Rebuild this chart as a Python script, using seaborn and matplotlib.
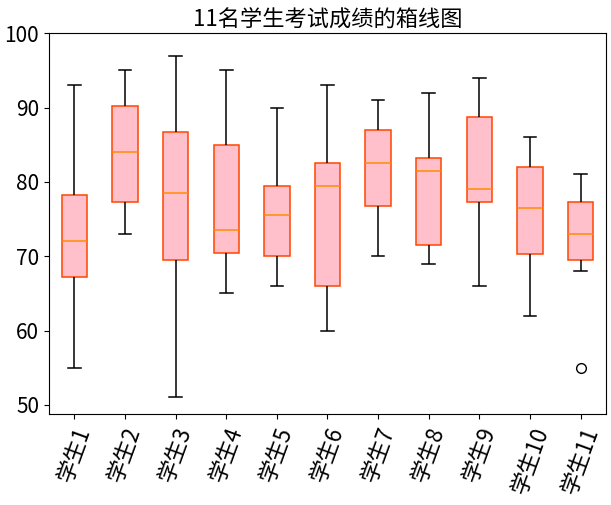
import matplotlib
matplotlib.use("Agg")
import matplotlib.pyplot as plt
import seaborn as sns
import pandas as pd

students = [f"学生{i}" for i in range(1, 12)]
# per-student score samples: [min, q1, median, q3, max] (+ extra points where needed)
scores = {
    "学生1": [55, 67.25, 72, 78.25, 93],
    "学生2": [73, 77.3, 84, 90.25, 95],
    "学生3": [51, 69.5, 78.5, 86.75, 97],
    "学生4": [65, 70.5, 73.5, 85, 95],
    "学生5": [66, 70, 75.5, 79.5, 90],
    "学生6": [60, 66, 79.5, 82.5, 93],
    "学生7": [70, 76.75, 82.5, 87, 91],
    "学生8": [69, 71.5, 81.5, 83.25, 92],
    "学生9": [66, 77.25, 79, 88.75, 94],
    "学生10": [62, 70.25, 76.5, 82, 86],
    "学生11": [55, 68, 69.5, 71, 73, 75, 77.25, 79, 81],
}
title = "11名学生考试成绩的箱线图"

rows = [(s, v) for s in students for v in scores[s]]
df = pd.DataFrame(rows, columns=["student", "score"])

plt.rcParams['font.family'] = ['Noto Sans CJK SC', 'DejaVu Sans']
plt.rcParams['axes.unicode_minus'] = False

fig = plt.figure(figsize=(6.11, 5.05), dpi=100)
ax = fig.add_axes([0.08, 0.18, 0.912, 0.754])

sns.boxplot(data=df, x="student", y="score", order=students, ax=ax,
            width=0.5, saturation=1, color="pink", linewidth=1.1,
            boxprops=dict(facecolor="pink", edgecolor="orangered"),
            medianprops=dict(color="darkorange"),
            whiskerprops=dict(color="black"),
            capprops=dict(color="black"),
            flierprops=dict(marker="o", markerfacecolor="none",
                            markeredgecolor="black", markersize=7))

ax.set_ylim(48.75, 100)
ax.set_xlim(-0.5, 10.5)
ax.set_yticks([50, 60, 70, 80, 90, 100])
ax.set_xlabel("")
ax.set_ylabel("")
ax.set_title(title, fontsize=16, pad=5)
ax.tick_params(axis='y', labelsize=15)
ax.tick_params(axis='x', labelsize=16)
for lab in ax.get_xticklabels():
    lab.set_rotation(70)
    lab.set_ha('center')

fig.savefig("out.png", dpi=100)
